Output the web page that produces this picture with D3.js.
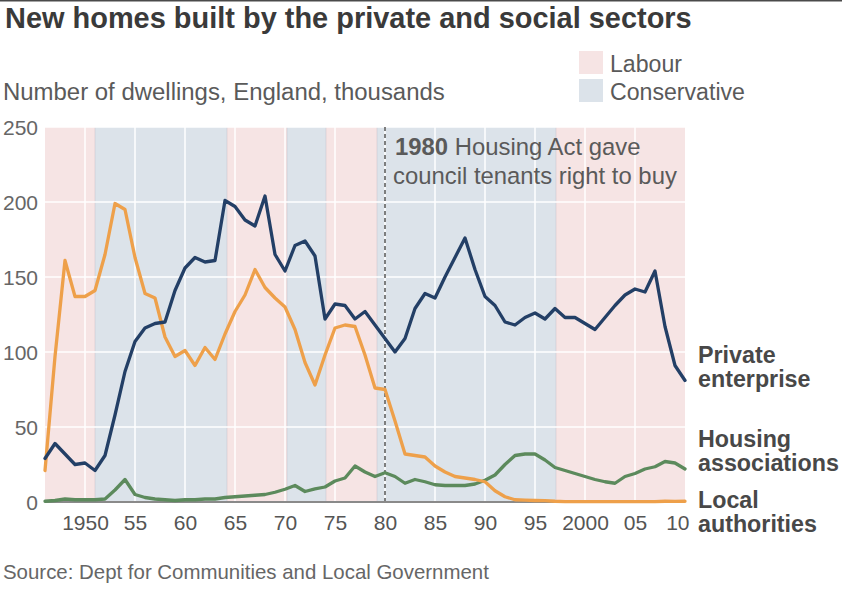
<!DOCTYPE html>
<html>
<head>
<meta charset="utf-8">
<script src="https://cdn.jsdelivr.net/npm/d3@7"></script>
<style>
  html, body { margin: 0; padding: 0; background: #fff; }
  svg { display: block; font-family: "Liberation Sans", Arial, Helvetica, sans-serif; }
</style>
</head>
<body>
<svg id="chart" width="842" height="600"></svg>
<script>
// ---------- DATA ----------
const years = [1946,1947,1948,1949,1950,1951,1952,1953,1954,1955,1956,1957,1958,1959,
  1960,1961,1962,1963,1964,1965,1966,1967,1968,1969,1970,1971,1972,1973,1974,1975,1976,
  1977,1978,1979,1980,1981,1982,1983,1984,1985,1986,1987,1988,1989,1990,1991,1992,1993,
  1994,1995,1996,1997,1998,1999,2000,2001,2002,2003,2004,2005,2006,2007,2008,2009,2010];

const privateEnterprise = [29,39,32,25,26,21,31,58,87,107,116,119,120,141,
  156,163,160,161,201,197,188,184,204,165,154,171,174,164,122,132,131,
  122,127,118,109,100,109,129,139,136,150,163,176,155,137,131,120,118,
  123,126,122,129,123,123,119,115,123,131,138,142,140,154,117,91,81];

const housingAssociations = [0.5,1,2,1.5,1.5,1.5,2,8,15,5,3,2,1.5,1,
  1.5,1.5,2,2,3,3.5,4,4.5,5,6.5,8.5,11,7,8.7,10,14,16,
  24,20,17,19.5,17,12.5,15,13.5,11.5,11,11,11,12,14.5,18,25,31,
  32,32,28,23,21,19,17,15,13.5,12.5,17,19,22,23.5,27,26,22];

const localAuthorities = [21,97,161,137,137,141,165,199,195,163,139,136,110,97,
  101,91,103,95,112,127,138,155,143,136,130,115,93,78,98,116,118,
  117,98,76,75,54,32,31,30,24,20,17,16,15,13.5,7.5,3.5,1.5,
  1.2,1,0.9,0.5,0.3,0.2,0.3,0.2,0.2,0.2,0.2,0.3,0.3,0.3,0.5,0.4,0.5];

// Governing party periods
const partyNames  = ["Labour","Conservative","Labour","Conservative","Labour","Conservative","Labour"];
const periodStart = [1946, 1951, 1964.2, 1970.2, 1974.1, 1979.2, 1997.1];
const periodEnd   = [1951, 1964.2, 1970.2, 1974.1, 1979.2, 1997.1, 2010];

const yTicks = [0, 50, 100, 150, 200, 250];
const xTickYears  = [1950,1955,1960,1965,1970,1975,1980,1985,1990,1995,2000,2005,2010];
const xTickLabels = ["1950","55","60","65","70","75","80","85","90","95","2000","05","10"];

const seriesNames = ["Private enterprise","Housing associations","Local authorities"];
const legendNames = ["Labour","Conservative"];
const housingActYear = 1980;

// ---------- STYLE ----------
const partyColor = { Labour: "#f6e4e4", Conservative: "#dce3ea" };
const lineColor = { "Private enterprise": "#233f66", "Housing associations": "#5c8a5c", "Local authorities": "#eea04a" };
const textGray = "#5a5a5a";

const svg = d3.select("#chart");

function fitWidth(sel, w) {
  const cur = sel.node().getComputedTextLength();
  const fs = parseFloat(sel.attr("font-size"));
  sel.attr("font-size", (fs * w / cur).toFixed(2));
  return parseFloat(sel.attr("font-size"));
}

// top border
svg.append("rect").attr("x", 0).attr("y", 0).attr("width", 842).attr("height", 1.5).attr("fill", "#4a4a4a");

// Title
const title = svg.append("text").attr("x", 5).attr("y", 28)
  .attr("font-size", 24).attr("font-weight", "bold").attr("fill", "#3a3a3a")
  .text("New homes built by the private and social sectors");
fitWidth(title, 687);

// Subtitle
const sub = svg.append("text").attr("x", 3).attr("y", 100)
  .attr("font-size", 20).attr("fill", textGray)
  .text("Number of dwellings, England, thousands");
fitWidth(sub, 442);

// Legend
const legTexts = [];
legendNames.forEach((n, i) => {
  svg.append("rect").attr("x", 579).attr("y", 51 + i * 28).attr("width", 24).attr("height", 23)
    .attr("fill", partyColor[n]);
  legTexts.push(svg.append("text").attr("x", 610).attr("y", 72 + i * 28)
    .attr("font-size", 22).attr("fill", textGray).text(n));
});
const legFs = fitWidth(legTexts[1], 135);
legTexts[0].attr("font-size", legFs);

// Scales
const x = d3.scaleLinear().domain([1946, 2010]).range([45, 685]);
const y = d3.scaleLinear().domain([0, 250]).range([502, 127]);

// Party bands
const g = svg.append("g");
partyNames.forEach((p, i) => {
  g.append("rect")
    .attr("x", x(periodStart[i])).attr("y", y(250))
    .attr("width", x(periodEnd[i]) - x(periodStart[i]))
    .attr("height", y(0) - y(250))
    .attr("fill", partyColor[p]);
});
periodStart.slice(1).forEach(s => {
  g.append("line").attr("x1", x(s)).attr("x2", x(s)).attr("y1", y(250)).attr("y2", y(0))
    .attr("stroke", "#b9b3bd").attr("stroke-opacity", 0.35).attr("stroke-width", 1);
});

// Gridlines
yTicks.filter(t => t > 0).forEach(t => {
  g.append("line").attr("x1", x(1946)).attr("x2", x(2010)).attr("y1", y(t)).attr("y2", y(t))
    .attr("stroke", "#fff").attr("stroke-width", 1.5);
});
xTickYears.filter(t => t < 2010).forEach(t => {
  g.append("line").attr("x1", x(t)).attr("x2", x(t)).attr("y1", y(250)).attr("y2", y(0))
    .attr("stroke", "#fff").attr("stroke-width", 1.5);
});

// 1980 dashed line
g.append("line").attr("x1", x(housingActYear)).attr("x2", x(housingActYear))
  .attr("y1", y(250)).attr("y2", y(0))
  .attr("stroke", "#555").attr("stroke-width", 1.5).attr("stroke-dasharray", "4,3");

// Annotation
const ann1 = svg.append("text").attr("x", 395).attr("y", 155).attr("font-size", 20).attr("fill", textGray);
ann1.append("tspan").attr("font-weight", "bold").text("1980");
ann1.append("tspan").text(" Housing Act gave");
const ann2 = svg.append("text").attr("x", 393).attr("y", 184).attr("font-size", 20).attr("fill", textGray)
  .text("council tenants right to buy");
fitWidth(ann2, 284);
ann1.attr("font-size", ann2.attr("font-size"));

// Baseline axis line
g.append("line").attr("x1", x(1946)).attr("x2", x(2010)).attr("y1", y(0)).attr("y2", y(0))
  .attr("stroke", "#8a8a8a").attr("stroke-width", 2);

// Lines
const seriesData = {
  "Housing associations": housingAssociations,
  "Local authorities": localAuthorities,
  "Private enterprise": privateEnterprise
};
const line = d3.line().x((d, i) => x(years[i])).y(d => y(d));
["Housing associations", "Local authorities", "Private enterprise"].forEach(n => {
  g.append("path").datum(seriesData[n]).attr("d", line)
    .attr("fill", "none").attr("stroke", lineColor[n]).attr("stroke-width", 3.3)
    .attr("stroke-linejoin", "round").attr("stroke-linecap", "round");
});

// Y axis
const yAxis = svg.append("g").attr("transform", "translate(38,0)")
  .call(d3.axisLeft(y).tickValues(yTicks).tickSize(0).tickPadding(0));
yAxis.select(".domain").remove();
yAxis.selectAll("text").attr("font-size", 21).attr("fill", "#666")
  .attr("font-family", "Liberation Sans, Arial, sans-serif").attr("dy", "0.36em");

// X axis
const xAxis = svg.append("g").attr("transform", "translate(0,514)")
  .call(d3.axisBottom(x).tickValues(xTickYears).tickSize(0).tickPadding(0)
    .tickFormat((d, i) => xTickLabels[i]));
xAxis.select(".domain").remove();
xAxis.selectAll("text").attr("font-size", 21).attr("fill", "#555")
  .attr("font-family", "Liberation Sans, Arial, sans-serif").attr("dy", "0.76em");
xAxis.selectAll("text").filter(d => d === 2010).attr("text-anchor", "end").attr("x", 4);

// Series labels (right)
const labelLines = {
  "Private enterprise": [["Private", 363], ["enterprise", 387]],
  "Housing associations": [["Housing", 447], ["associations", 471]],
  "Local authorities": [["Local", 508], ["authorities", 532]]
};
const rightLabels = [];
seriesNames.forEach(n => {
  labelLines[n].forEach(([t, yy]) => {
    rightLabels.push(svg.append("text").attr("x", 698).attr("y", yy).attr("font-size", 21)
      .attr("font-weight", "bold").attr("fill", "#484848").text(t));
  });
});
const rfs = fitWidth(rightLabels[3], 141);
rightLabels.forEach(t => t.attr("font-size", rfs));

// Source
const src = svg.append("text").attr("x", 3).attr("y", 579).attr("font-size", 18).attr("fill", "#666")
  .text("Source: Dept for Communities and Local Government");
fitWidth(src, 486);
</script>
</body>
</html>
